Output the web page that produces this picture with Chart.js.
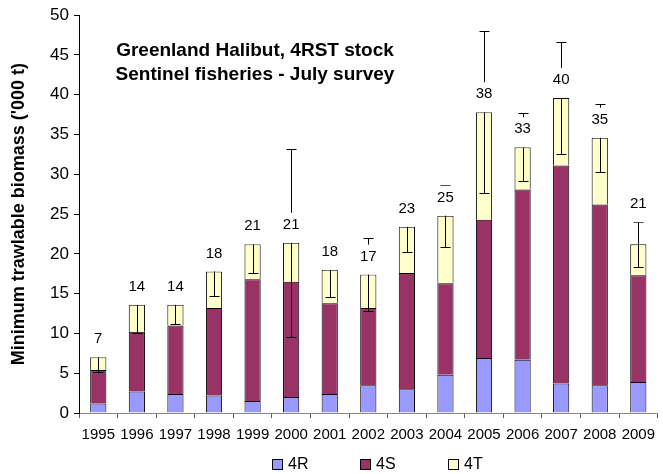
<!DOCTYPE html>
<html>
<head>
<meta charset="utf-8">
<script src="https://cdn.jsdelivr.net/npm/chart.js@4.4.0/dist/chart.umd.min.js"></script>
<style>
  html, body { margin: 0; padding: 0; background: #fff; }
</style>
</head>
<body>
<canvas id="myChart" width="663" height="474"></canvas>
<script>
var years = ['1995', '1996', '1997', '1998', '1999', '2000', '2001', '2002',
             '2003', '2004', '2005', '2006', '2007', '2008', '2009'];
// biomass by division ('000 t)
var biomass4R = [1.2, 2.7, 2.4, 2.2, 1.5, 2.0, 2.4, 3.5, 3.0, 4.8, 6.9, 6.7, 3.7, 3.5, 3.9];
var biomass4S = [4.2, 7.5, 8.6, 11.0, 15.3, 14.5, 11.4, 9.7, 14.6, 11.5, 17.4, 21.4, 27.4, 22.7, 13.4];
var biomass4T = [1.6, 3.4, 2.6, 4.6, 4.4, 4.9, 4.2, 4.2, 5.8, 8.5, 13.5, 5.3, 8.5, 8.4, 3.9];
// +/- error on the total
var totalError = [1.8, 3.5, 2.4, 3.1, 3.6, 11.8, 3.4, 4.6, 3.2, 3.9, 10.2, 4.3, 7.0, 4.3, 2.8];

var FONT = "'Liberation Sans', Arial, sans-serif";

// error bars on the stack total, then the rounded total as a label
var totalsPlugin = {
  id: 'totals',
  afterDatasetsDraw: function(chart, args, opts) {
    var ctx = chart.ctx;
    var y = chart.scales.y;
    var meta = chart.getDatasetMeta(chart.data.datasets.length - 1);
    ctx.save();
    years.forEach(function(yr, i) {
      var total = biomass4R[i] + biomass4S[i] + biomass4T[i];
      var x = Math.round(meta.data[i].x);
      var hi = Math.round(y.getPixelForValue(total + totalError[i])) + 0.5;
      var lo = Math.round(y.getPixelForValue(total - totalError[i])) + 0.5;
      ctx.strokeStyle = '#000';
      ctx.lineWidth = 1;
      ctx.beginPath();
      ctx.moveTo(x + 0.5, hi);
      ctx.lineTo(x + 0.5, lo);
      ctx.moveTo(x - 4.5, hi);
      ctx.lineTo(x + 5.5, hi);
      ctx.moveTo(x - 4.5, lo);
      ctx.lineTo(x + 5.5, lo);
      ctx.stroke();
    });
    years.forEach(function(yr, i) {
      var total = biomass4R[i] + biomass4S[i] + biomass4T[i];
      var x = meta.data[i].x;
      var top = y.getPixelForValue(total);
      var lift = opts.lift[yr] || 18;
      var cy = top - lift;
      var txt = String(Math.round(total));
      ctx.font = '15px ' + FONT;
      var w = ctx.measureText(txt).width + 6;
      ctx.fillStyle = '#fff';
      ctx.fillRect(x - w / 2, cy - 12, w, Math.min(lift + 12, 30));
      ctx.fillStyle = '#000';
      ctx.textAlign = 'center';
      ctx.textBaseline = 'middle';
      ctx.fillText(txt, x, cy);
    });
    ctx.restore();
  }
};

// title text inside the plot and the legend row
var decorPlugin = {
  id: 'decor',
  afterDraw: function(chart) {
    var ctx = chart.ctx;
    var area = chart.chartArea;
    ctx.save();
    ctx.fillStyle = '#000';
    ctx.textAlign = 'center';
    ctx.textBaseline = 'middle';
    ctx.font = 'bold 19px ' + FONT;
    ctx.fillText('Greenland Halibut, 4RST stock', area.left + 176, 51);
    ctx.fillText('Sentinel fisheries - July survey', area.left + 176, 75);

    ctx.font = '16px ' + FONT;
    ctx.textAlign = 'left';
    chart.data.datasets.forEach(function(ds, i) {
      var bx = area.left + 193 + i * 88;
      var by = 464;
      ctx.fillStyle = ds.backgroundColor;
      ctx.fillRect(bx, by - 5, 10, 10);
      ctx.strokeStyle = '#000';
      ctx.lineWidth = 1;
      ctx.strokeRect(bx + 0.5, by - 4.5, 10, 10);
      ctx.fillStyle = '#000';
      ctx.fillText(ds.label, bx + 16, by + 1);
    });
    ctx.restore();
  }
};

var ctx = document.getElementById('myChart').getContext('2d');
new Chart(ctx, {
  type: 'bar',
  data: {
    labels: years,
    datasets: [
      { label: '4R', data: biomass4R, backgroundColor: '#9999FF', borderColor: '#000', borderWidth: 1 },
      { label: '4S', data: biomass4S, backgroundColor: '#993366', borderColor: '#000', borderWidth: 1 },
      { label: '4T', data: biomass4T, backgroundColor: '#FFFFCC', borderColor: '#000', borderWidth: 1 }
    ]
  },
  options: {
    responsive: false,
    animation: false,
    devicePixelRatio: 1,
    layout: { padding: { top: 14, right: 0, left: 0, bottom: 0 } },
    datasets: { bar: { barPercentage: 0.42, categoryPercentage: 1 } },
    plugins: {
      legend: { display: false },
      tooltip: { enabled: false },
      totals: { lift: { '2009': 40 } }
    },
    scales: {
      x: {
        stacked: true,
        afterFit: function(s) { s.height = 61; },
        grid: { drawOnChartArea: false, tickLength: 5, color: '#555' },
        border: { color: '#888' },
        ticks: { color: '#000', padding: 8, maxRotation: 0, autoSkip: false, font: { family: FONT, size: 15 } }
      },
      y: {
        stacked: true,
        min: 0,
        max: 50,
        afterFit: function(s) { s.width = 79; },
        grid: { drawOnChartArea: false, tickLength: 5, color: '#000' },
        border: { color: '#000' },
        ticks: { stepSize: 5, color: '#000', padding: 5, font: { family: FONT, size: 17 } },
        title: {
          display: true,
          text: "Minimum trawlable biomass ('000 t)",
          color: '#000',
          padding: { top: 8, bottom: 0 },
          font: { family: FONT, size: 18, weight: 'bold' }
        }
      }
    }
  },
  plugins: [totalsPlugin, decorPlugin]
});
</script>
</body>
</html>
